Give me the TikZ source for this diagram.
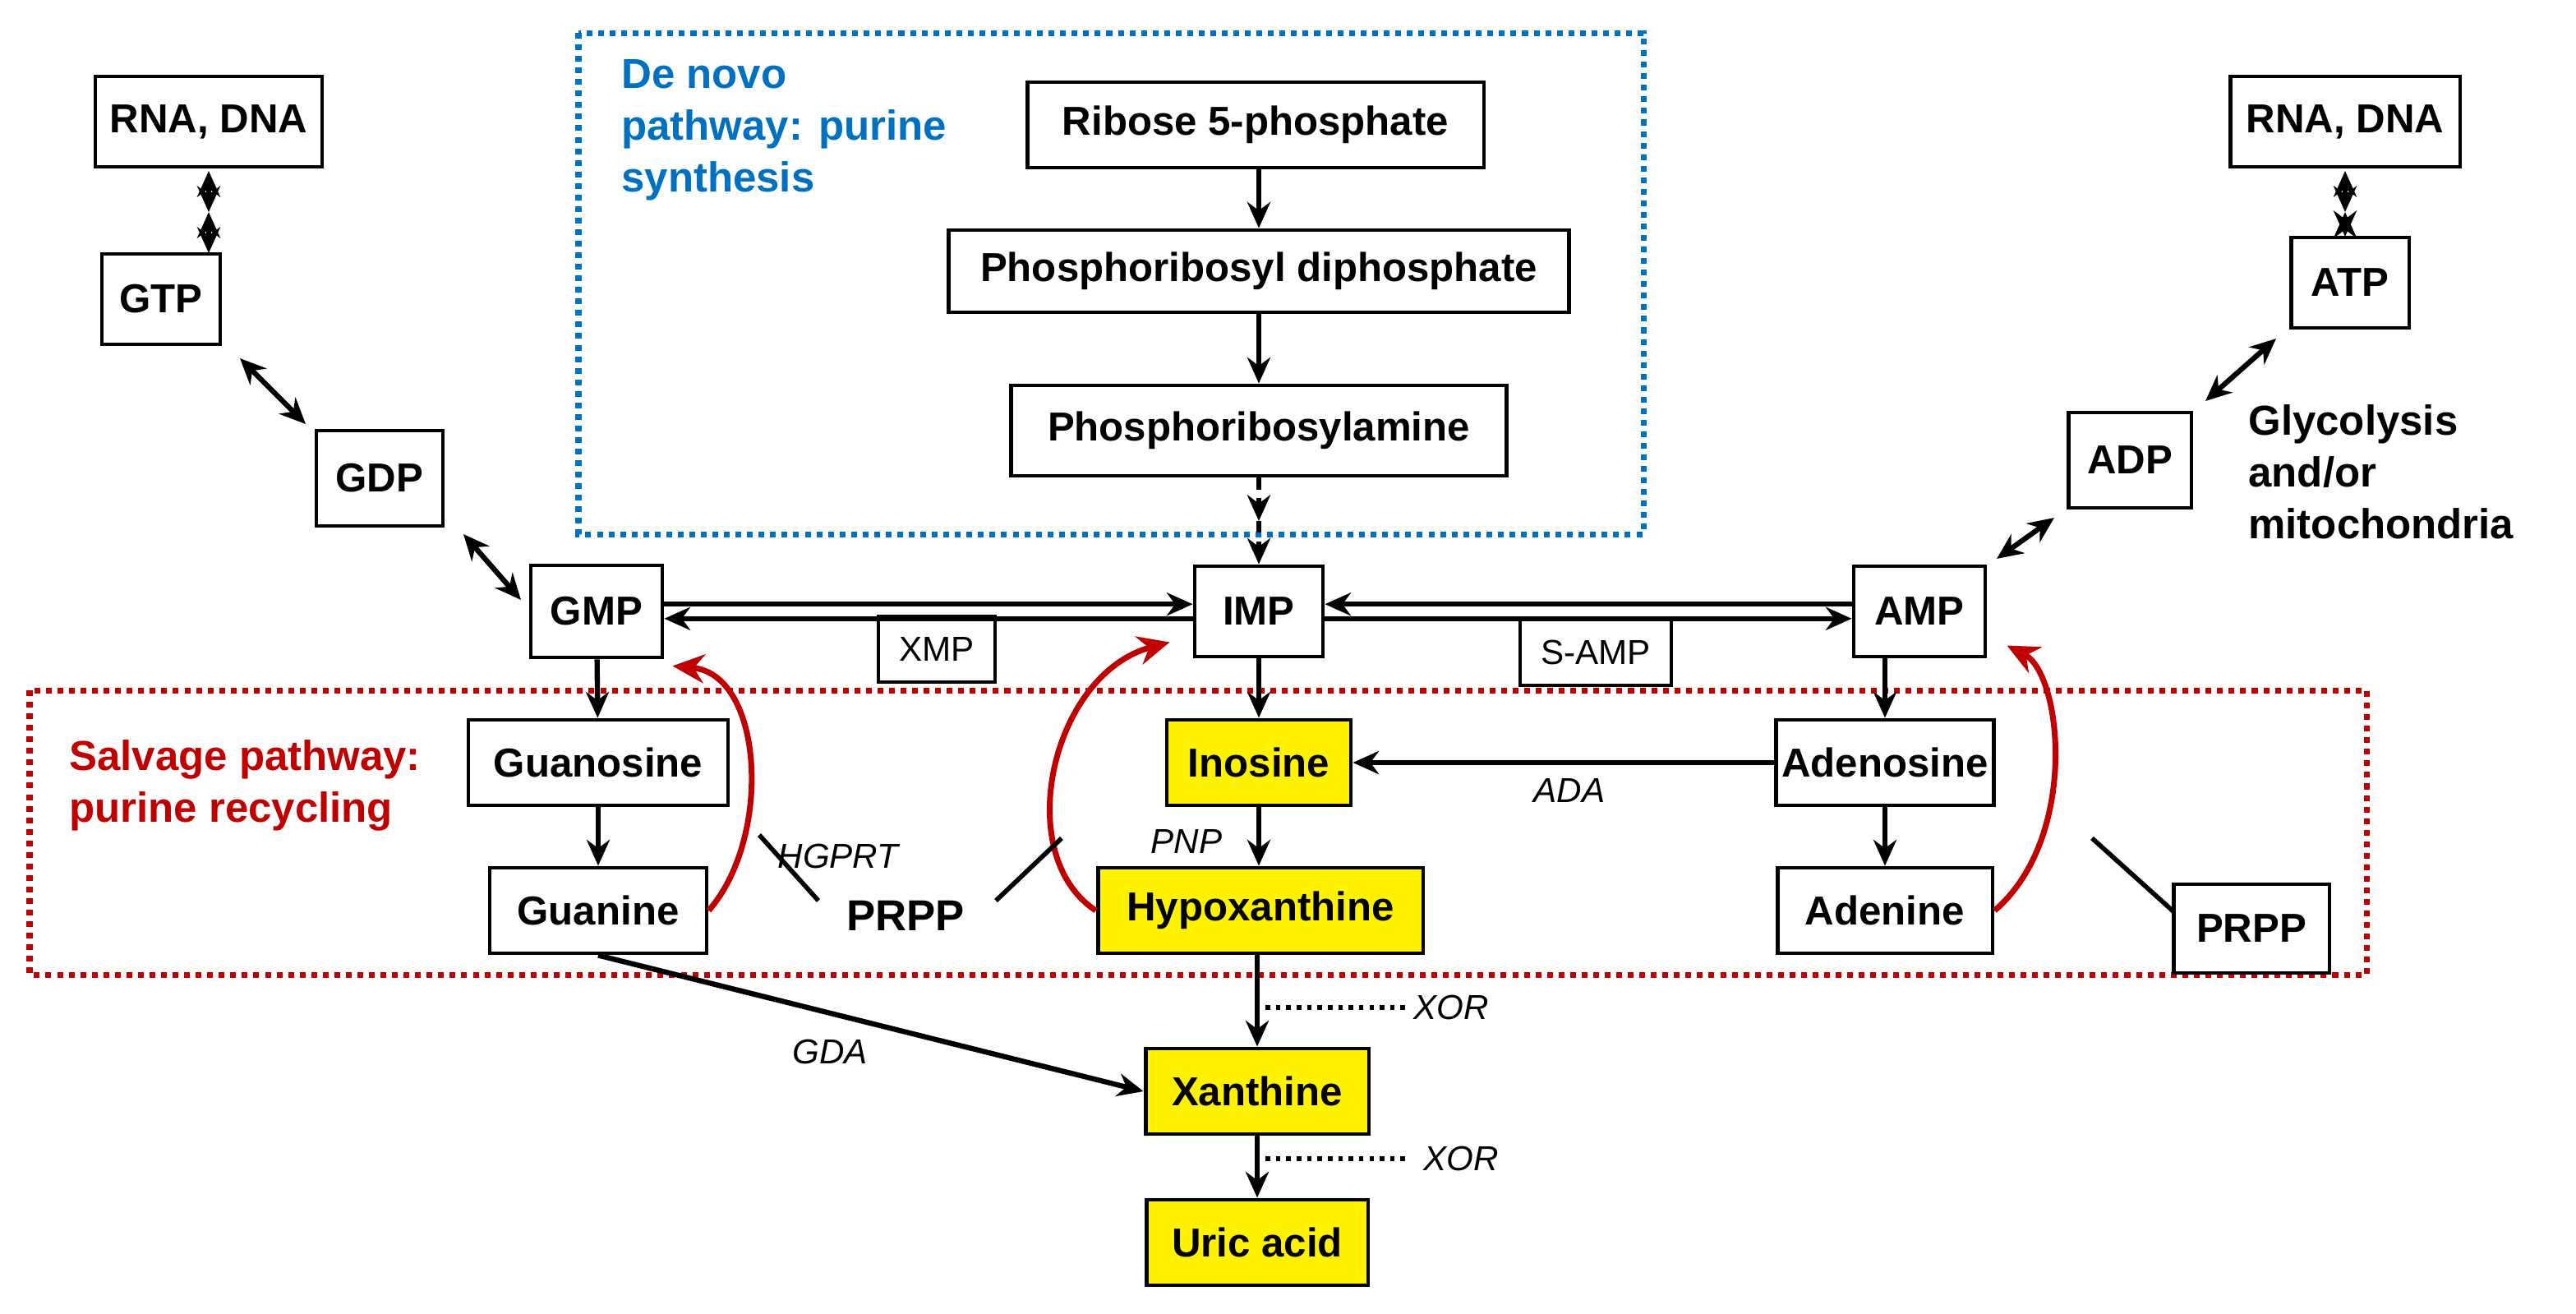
\documentclass[tikz,border=0pt]{standalone}
\usepackage{fontspec}
\setmainfont{Liberation Sans}
\usetikzlibrary{arrows.meta,calc}
\definecolor{dblue}{RGB}{0,112,192}
\definecolor{dred}{RGB}{192,0,0}
\begin{document}
\begin{tikzpicture}[x=0.02cm,y=-0.02cm,
  box/.style={draw,line width=1.4pt,font=\bfseries\fontsize{14}{16}\selectfont,inner sep=2pt},
  ybox/.style={box,fill=yellow},
  sbox/.style={draw,line width=1.4pt,font=\fontsize{12}{14}\selectfont,inner sep=2pt},
  arr/.style={-{Stealth[length=9pt,width=8pt]},line width=1.8pt},
  darr/.style={{Stealth[length=9pt,width=8pt]}-{Stealth[length=9pt,width=8pt]},line width=1.8pt},
  rarr/.style={-{Stealth[length=11pt,width=10pt]},line width=2pt,dred},
  enz/.style={font=\itshape\fontsize{12}{14}\selectfont}]
\useasboundingbox (0,0) rectangle (1567.5,799);
% regions
\draw[dblue,line width=2pt,dotted] (352,20) rectangle (1000,325);
\draw[dred,line width=2pt,dotted] (18,420) rectangle (1440,593);
\node[anchor=north west,align=left,text=dblue,font=\bfseries\fontsize{14.5}{18}\selectfont] at (372,30) {De novo\\pathway: purine\\synthesis};
\node[anchor=north west,align=left,text=dred,font=\bfseries\fontsize{14.5}{18}\selectfont] at (36,444) {Salvage pathway:\\purine recycling};
\node[anchor=north west,align=left,font=\bfseries\fontsize{14.5}{18}\selectfont] at (1362,240) {Glycolysis\\and/or\\mitochondria};
% nodes
\node[box,minimum width=2.76cm,minimum height=1.1cm] (rnaL) at (127,74) {RNA, DNA};
\node[box,minimum width=1.44cm,minimum height=1.1cm] (gtp) at (98,182) {GTP};
\node[box,minimum width=1.54cm,minimum height=1.16cm] (gdp) at (231,291) {GDP};
\node[box,minimum width=1.6cm,minimum height=1.12cm] (gmp) at (363,372) {GMP};
\node[box,minimum width=5.56cm,minimum height=1.04cm] (r5p) at (764,76) {Ribose 5-phosphate};
\node[box,minimum width=7.56cm,minimum height=1.0cm] (prd) at (766,165) {Phosphoribosyl diphosphate};
\node[box,minimum width=6.04cm,minimum height=1.1cm] (pra) at (766,262) {Phosphoribosylamine};
\node[box,minimum width=1.56cm,minimum height=1.1cm] (imp) at (766,372) {IMP};
\node[sbox,minimum width=1.42cm,minimum height=0.8cm] (xmp) at (570,395) {XMP};
\node[sbox,minimum width=1.84cm,minimum height=0.8cm] (samp) at (971,397) {S-AMP};
\node[box,minimum width=1.6cm,minimum height=1.1cm] (amp) at (1168,372) {AMP};
\node[box,minimum width=1.5cm,minimum height=1.16cm] (adp) at (1296,280) {ADP};
\node[box,minimum width=1.44cm,minimum height=1.1cm] (atp) at (1430,172) {ATP};
\node[box,minimum width=2.8cm,minimum height=1.1cm] (rnaR) at (1427,74) {RNA, DNA};
\node[box,minimum width=3.16cm,minimum height=1.04cm] (guo) at (364,464) {Guanosine};
\node[box,minimum width=2.64cm,minimum height=1.04cm] (gua) at (364,554) {Guanine};
\node[ybox,minimum width=2.24cm,minimum height=1.04cm] (ino) at (766,464) {Inosine};
\node[ybox,minimum width=3.96cm,minimum height=1.04cm] (hyp) at (767,554) {Hypoxanthine};
\node[box,minimum width=2.62cm,minimum height=1.04cm] (ado) at (1147,464) {Adenosine};
\node[box,minimum width=2.62cm,minimum height=1.04cm] (ade) at (1147,554) {Adenine};
\node[box,minimum width=1.9cm,minimum height=1.08cm] (prppR) at (1370,565) {PRPP};
\node[ybox,minimum width=2.72cm,minimum height=1.04cm] (xan) at (765,664) {Xanthine};
\node[ybox,minimum width=2.7cm,minimum height=1.04cm] (uric) at (765,756) {Uric acid};
\node[font=\bfseries\fontsize{15}{17}\selectfont] (prppL) at (551,557) {PRPP};
\node[enz] (hgprt) at (510,521) {HGPRT};
\node[enz] (pnp) at (722,512) {PNP};
\node[enz] (ada) at (955,481) {ADA};
\node[enz] (gda) at (505,640) {GDA};
\node[enz] (xor1) at (883,613) {XOR};
\node[enz] (xor2) at (889,705) {XOR};
\coordinate (x1) at (855,613); \coordinate (x1s) at (770,613);
\coordinate (x2) at (855,705); \coordinate (x2s) at (770,705);
% end points of small double arrows
\coordinate (l0) at (127,104); \coordinate (l1) at (127,129); \coordinate (l2) at (127,154);
\coordinate (r0) at (1427,104); \coordinate (r1) at (1427,129); \coordinate (r2) at (1427,144);
\coordinate (g1) at (146,218); \coordinate (g2) at (186,258);
\coordinate (g3) at (282,325); \coordinate (g4) at (317,365);
\coordinate (a1) at (1385,206); \coordinate (a2) at (1342,244);
\coordinate (a3) at (1250,315); \coordinate (a4) at (1215,340);
% connectors
\draw[darr] (l0) -- (l1);
\draw[darr] (l1) -- (l2);
\draw[darr] (r0) -- (r1);
\draw[darr] (r1) -- (r2);
\draw[darr] (g1) -- (g2);
\draw[darr] (g3) -- (g4);
\draw[darr] (a1) -- (a2);
\draw[darr] (a3) -- (a4);
\draw[arr] (r5p.south -| prd.north) -- (prd.north);
\draw[arr] (prd) -- (pra);
\coordinate (mid) at ($(pra.south)!0.5!(imp.north)$);
\draw[arr,dash pattern=on 4pt off 3pt] (pra.south) -- (mid);
\draw[arr,dash pattern=on 4pt off 3pt] (mid) -- (imp.north);
\draw[arr] ([yshift=2.5pt]gmp.east) -- ([yshift=2.5pt]imp.west);
\draw[arr] ([yshift=-2.5pt]imp.west) -- ([yshift=-2.5pt]gmp.east);
\draw[arr] ([yshift=2.5pt]amp.west) -- ([yshift=2.5pt]imp.east);
\draw[arr] ([yshift=-2.5pt]imp.east) -- ([yshift=-2.5pt]amp.west);
\draw[arr] (gmp) -- (guo);
\draw[arr] (guo) -- (gua);
\draw[arr] (imp) -- (ino);
\draw[arr] (ino.south) -- (ino.south |- hyp.north);
\draw[arr] (amp.south -| ado.north) -- (ado.north);
\draw[arr] (ado) -- (ade);
\draw[arr] (ado) -- (ino);
\draw[arr] (hyp.south -| xan.north) -- (xan.north);
\draw[arr] (xan) -- (uric);
\draw[arr] (gua.south) -- (xan.west);
\draw[line width=1.6pt,dotted] (x1s) -- (x1);
\draw[line width=1.6pt,dotted] (x2s) -- (x2);
\draw[rarr] (gua.east) .. controls (470,510) and (465,410) .. ([shift={(5,4)}]gmp.south east);
\draw[rarr] (hyp.west) .. controls (615,520) and (640,410) .. ([shift={(-14,-10)}]imp.south west);
\draw[rarr] (ade.east) .. controls (1265,510) and (1255,410) .. ([shift={(12,-8)}]amp.south east);
\draw[line width=1.6pt] (462,508) -- (498,548);
\draw[line width=1.6pt] (606,548) -- (646,510);
\draw[line width=1.6pt] (1273,510) -- (1323,555);
\end{tikzpicture}
\end{document}
